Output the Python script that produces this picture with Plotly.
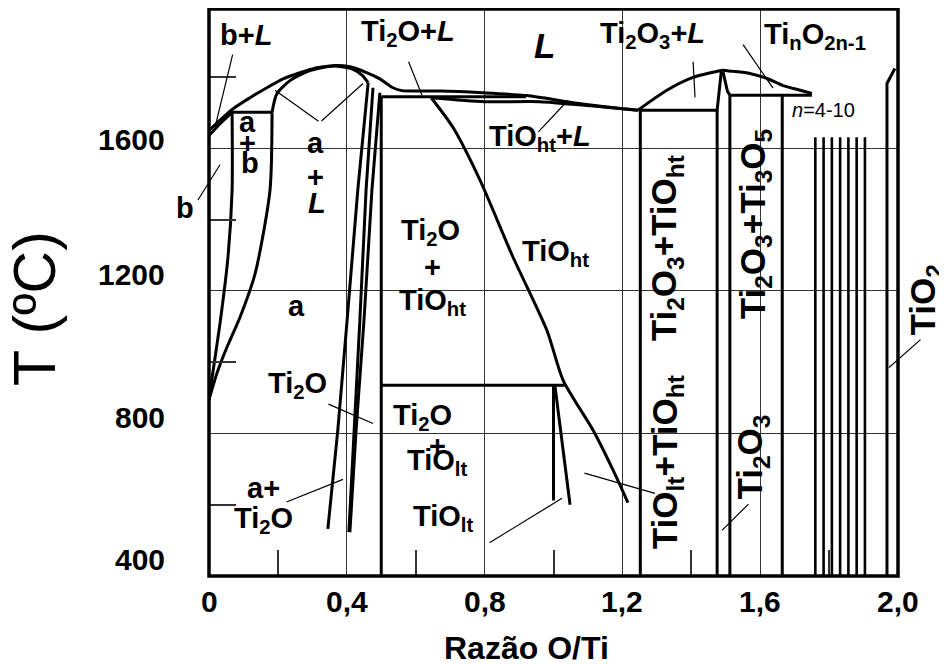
import plotly.graph_objects as go

FONT = "Liberation Sans, Arial, Helvetica, sans-serif"

# ---------------- axes / grid ----------------
x_range = [0.0, 2.0]
y_range = [400, 1991]
x_grid = [0.4, 0.8, 1.2, 1.6]
y_grid = [800, 1200, 1600]
x_minor_ticks = [0.2, 0.6, 1.0, 1.4, 1.8]
y_minor_ticks = [600, 1000, 1400, 1800]
x_tick_vals = [0.0, 0.4, 0.8, 1.2, 1.6, 2.0]
x_tick_text = ["0", "0,4", "0,8", "1,2", "1,6", "2,0"]
y_tick_vals = [400, 800, 1200, 1600]
y_tick_text = ["400", "800", "1200", "1600"]

# ---------------- phase boundaries (O/Ti, T in °C) ----------------
liquidus_x = [0.0, 0.07, 0.119, 0.168, 0.215, 0.264, 0.313, 0.36, 0.409, 0.459, 0.496, 0.534, 0.56, 0.60, 0.671, 0.795, 0.923, 1.057, 1.202, 1.245]
liquidus_t = [1650, 1711, 1742, 1770, 1795, 1812, 1826, 1832, 1829, 1812, 1795, 1770, 1762, 1761, 1761, 1756, 1748, 1728, 1711, 1707]

beta_solidus_x = [0.0, 0.035, 0.067]
beta_solidus_t = [1636, 1672, 1701]

ab_top_x = [0.067, 0.183]
ab_top_t = [1701, 1701]

beta_transus_x = [0.067, 0.067, 0.055, 0.032, 0.009, 0.0]
beta_transus_t = [1701, 1482, 1294, 1109, 957, 895]

alpha_transus_x = [0.0, 0.023, 0.052, 0.090, 0.134, 0.177, 0.183]
alpha_transus_t = [895, 969, 1042, 1126, 1249, 1482, 1701]

alpha_solidus_x = [0.183, 0.197, 0.235, 0.293, 0.36, 0.418, 0.445, 0.462]
alpha_solidus_t = [1701, 1753, 1790, 1818, 1831, 1822, 1805, 1784]

ti2o_b1_x = [0.462, 0.432, 0.401, 0.374, 0.345]
ti2o_b1_t = [1784, 1484, 1119, 810, 532]
ti2o_b2_x = [0.476, 0.456, 0.438, 0.421, 0.406]
ti2o_b2_t = [1770, 1484, 1119, 810, 523]
ti2o_b3_x = [0.496, 0.473, 0.45, 0.427, 0.409]
ti2o_b3_t = [1756, 1484, 1119, 810, 523]

tio_left_x = [0.5, 0.5]
tio_left_t = [1745, 400]

peritectic_x = [0.5, 0.92]
peritectic_t = [1745, 1745]

tio_solidus_x = [0.645, 0.8, 0.96, 1.10, 1.245]
tio_solidus_t = [1742, 1731, 1731, 1720, 1707]

tio_ht_x = [0.645, 0.708, 0.787, 0.88, 0.981, 1.028, 1.115, 1.173, 1.216]
tio_ht_t = [1742, 1659, 1510, 1300, 1089, 949, 809, 697, 606]

eutectoid_x = [0.5, 1.035]
eutectoid_t = [935, 935]

tio_lt_a_x = [1.0, 1.0]
tio_lt_a_t = [935, 612]
tio_lt_b_x = [1.004, 1.048]
tio_lt_b_t = [935, 600]

ti2o3_left_bound_x = [1.252, 1.252]
ti2o3_left_bound_t = [1707, 400]

ti2o3_eutectic_x = [1.252, 1.478]
ti2o3_eutectic_t = [1707, 1707]

dome_left_x = [1.245, 1.329, 1.405, 1.489]
dome_left_t = [1707, 1763, 1799, 1819]
dome_right_x = [1.489, 1.521, 1.570, 1.620, 1.666, 1.716, 1.75]
dome_right_t = [1819, 1816, 1810, 1796, 1776, 1763, 1754]

ti2o3_a_x = [1.487, 1.480, 1.475, 1.475]
ti2o3_a_t = [1815, 1760, 1707, 400]
ti2o3_b_x = [1.492, 1.505, 1.512, 1.512]
ti2o3_b_t = [1815, 1760, 1749, 400]

magneli_top_x = [1.512, 1.75]
magneli_top_t = [1749, 1749]

ti3o5_x = [1.664, 1.664]
ti3o5_t = [1749, 400]

magneli_x = [1.76, 1.784, 1.808, 1.832, 1.856, 1.88, 1.904]
magneli_top = 1631
magneli_bottom = 400

tio2_x = [1.968, 1.968, 1.991]
tio2_t = [400, 1782, 1824]

curved = {"liquidus", "alpha_solidus", "alpha_transus", "beta_transus",
          "dome_left", "dome_right", "tio_ht", "tio_solidus", "beta_solidus"}

boundaries = [
    ("liquidus", liquidus_x, liquidus_t),
    ("beta_solidus", beta_solidus_x, beta_solidus_t),
    ("ab_top", ab_top_x, ab_top_t),
    ("beta_transus", beta_transus_x, beta_transus_t),
    ("alpha_transus", alpha_transus_x, alpha_transus_t),
    ("alpha_solidus", alpha_solidus_x, alpha_solidus_t),
    ("b1", ti2o_b1_x, ti2o_b1_t),
    ("b2", ti2o_b2_x, ti2o_b2_t),
    ("b3", ti2o_b3_x, ti2o_b3_t),
    ("tio_left", tio_left_x, tio_left_t),
    ("peritectic", peritectic_x, peritectic_t),
    ("tio_solidus", tio_solidus_x, tio_solidus_t),
    ("tio_ht", tio_ht_x, tio_ht_t),
    ("eutectoid", eutectoid_x, eutectoid_t),
    ("tio_lt_a", tio_lt_a_x, tio_lt_a_t),
    ("tio_lt_b", tio_lt_b_x, tio_lt_b_t),
    ("ti2o3_left_bound", ti2o3_left_bound_x, ti2o3_left_bound_t),
    ("ti2o3_eutectic", ti2o3_eutectic_x, ti2o3_eutectic_t),
    ("dome_left", dome_left_x, dome_left_t),
    ("dome_right", dome_right_x, dome_right_t),
    ("ti2o3_a", ti2o3_a_x, ti2o3_a_t),
    ("ti2o3_b", ti2o3_b_x, ti2o3_b_t),
    ("magneli_top", magneli_top_x, magneli_top_t),
    ("ti3o5", ti3o5_x, ti3o5_t),
    ("tio2", tio2_x, tio2_t),
]

# leader lines: (x_from, T_from, x_to, T_to)
leaders = [
    (0.0697, 1867, 0.0174, 1659),
    (-0.0348, 1451, 0.0319, 1554),
    (0.3222, 1673, 0.1916, 1763),
    (0.3222, 1673, 0.4470, 1782),
    (0.5776, 1847, 0.6183, 1749),
    (0.9521, 1642, 1.0421, 1735),
    (1.4050, 1847, 1.4108, 1743),
    (1.5472, 1895, 1.6372, 1769),
    (0.3423, 884, 0.4761, 828),
    (0.2206, 606, 0.3890, 671),
    (0.8099, 491, 1.0247, 618),
    (1.0856, 690, 1.2946, 632),
    (1.5704, 606, 1.4891, 528),
    (2.0697, 1067, 1.9739, 985),
]

# region labels: (text, x, T)
labels = [
    ("b+<i>L</i>", 0.107, 1917),
    ("Ti<sub>2</sub>O+<i>L</i>", 0.578, 1923),
    ("Ti<sub>2</sub>O<sub>3</sub>+<i>L</i>", 1.286, 1917),
    ("Ti<sub>n</sub>O<sub>2n-1</sub>", 1.759, 1914),
    ("a", 0.113, 1673), ("+", 0.113, 1615), ("b", 0.118, 1558),
    ("a", 0.308, 1615), ("+", 0.308, 1519), ("<i>L</i>", 0.314, 1446),
    ("a", 0.255, 1159),
    ("Ti<sub>2</sub>O", 0.258, 935),
    ("Ti<sub>2</sub>O", 0.642, 1364), ("+", 0.650, 1266), ("TiO<sub>ht</sub>", 0.650, 1168),
    ("Ti<sub>2</sub>O", 0.621, 845), ("+", 0.662, 766), ("TiO<sub>lt</sub>", 0.662, 719),
    ("TiO<sub>lt</sub>", 0.679, 564),
    ("a+", 0.157, 648), ("Ti<sub>2</sub>O", 0.157, 556),
    ("TiO<sub>ht</sub>", 1.007, 1305),
    ("TiO<sub>ht</sub>+<i>L</i>", 0.961, 1628),
]
big_label = ("<i>L</i>", 0.975, 1889)
small_label = ("<i>n</i>=4-10", 1.785, 1707)
rot_labels = [
    ("TiO<sub>lt</sub>+TiO<sub>ht</sub>", 1.329, 719),
    ("Ti<sub>2</sub>O<sub>3</sub>+TiO<sub>ht</sub>", 1.329, 1319),
    ("Ti<sub>2</sub>O<sub>3</sub>+Ti<sub>3</sub>O<sub>5</sub>", 1.585, 1387),
    ("Ti<sub>2</sub>O<sub>3</sub>", 1.576, 735),
]
# labels just outside the frame: anchored on the frame edge, pushed out in pixels
# (text, x, T, pixel offset, angle)
edge_labels = [
    ("b", 0.0, 1434, -24, 0),
    ("TiO<sub>2</sub>", 2.0, 1173, 27, -90),
]

fig = go.Figure()

for name, xs, ts in boundaries:
    fig.add_trace(go.Scatter(
        x=xs, y=ts, mode="lines",
        line=dict(color="black", width=3,
                  shape="spline" if name in curved else "linear", smoothing=0.7),
        hoverinfo="skip", showlegend=False))

for mx in magneli_x:
    fig.add_trace(go.Scatter(
        x=[mx, mx], y=[magneli_bottom, magneli_top], mode="lines",
        line=dict(color="black", width=2.6), hoverinfo="skip", showlegend=False))

annotations = []
for x0, t0, x1, t1 in leaders:
    annotations.append(dict(
        x=x1, y=t1, ax=x0, ay=t0, xref="x", yref="y", axref="x", ayref="y",
        text="", showarrow=True, arrowhead=0, arrowwidth=1.2, arrowcolor="black",
        standoff=0, startstandoff=0))

def lab(text, x, y, size=29, angle=0, weight="bold", xshift=0):
    annotations.append(dict(
        x=x, y=y, xref="x", yref="y", text=text, showarrow=False,
        textangle=angle, xanchor="center", yanchor="middle", xshift=xshift,
        font=dict(family=FONT, size=size, color="black", weight=weight)))

for t, x, y in labels:
    lab(t, x, y)
lab(*big_label, size=35)
lab(*small_label, size=20, weight="normal")
for t, x, y in rot_labels:
    lab(t, x, y, size=35, angle=-90)
for t, x, y, dx, ang in edge_labels:
    lab(t, x, y, size=35 if ang else 29, angle=ang, xshift=dx)

# tick labels
for v, t in zip(x_tick_vals, x_tick_text):
    annotations.append(dict(
        x=v, y=0, xref="x", yref="paper", text=t, showarrow=False,
        xanchor="center", yanchor="middle", yshift=-25,
        font=dict(family=FONT, size=30, color="black", weight="bold")))
y_shifts = [17, 16, 16, 9]
for v, t, s in zip(y_tick_vals, y_tick_text, y_shifts):
    annotations.append(dict(
        x=0, y=v, xref="paper", yref="y", text=t, showarrow=False,
        xanchor="right", yanchor="middle", xshift=-42, yshift=s,
        font=dict(family=FONT, size=30, color="black", weight="bold")))

# axis titles
annotations.append(dict(
    x=-0.2525, y=0.471, xref="paper", yref="paper", text="T (ºC)",
    showarrow=False, textangle=-90, xanchor="center", yanchor="middle",
    font=dict(family=FONT, size=59, color="black")))
annotations.append(dict(
    x=0.4615, y=-0.127, xref="paper", yref="paper", text="Razão O/Ti",
    showarrow=False, xanchor="center", yanchor="middle",
    font=dict(family=FONT, size=32, color="black", weight="bold")))

# The page body has an 8 px default margin, so the figure is sized to fit the window.
fig.update_layout(
    width=939, height=656,
    margin=dict(l=201, r=49, t=1, b=88),
    paper_bgcolor="white", plot_bgcolor="white",
    showlegend=False,
    annotations=annotations,
    shapes=[dict(type="rect", xref="paper", yref="paper", x0=0, x1=1, y0=0, y1=1,
                 line=dict(color="black", width=3.5), layer="above")],
    xaxis=dict(range=x_range, tickmode="array", tickvals=x_grid, showticklabels=False,
               ticks="", showgrid=True, gridcolor="#333333", gridwidth=1.2,
               zeroline=False, showline=False, fixedrange=True,
               minor=dict(tickmode="array", tickvals=x_minor_ticks, ticks="inside",
                          ticklen=26, tickwidth=1.5, tickcolor="#333333", showgrid=False)),
    yaxis=dict(range=y_range, tickmode="array", tickvals=y_grid, showticklabels=False,
               ticks="", showgrid=True, gridcolor="#333333", gridwidth=1.2,
               zeroline=False, showline=False, fixedrange=True,
               minor=dict(tickmode="array", tickvals=y_minor_ticks, ticks="inside",
                          ticklen=27, tickwidth=1.5, tickcolor="#333333", showgrid=False)),
)

fig.write_html("out.html")
